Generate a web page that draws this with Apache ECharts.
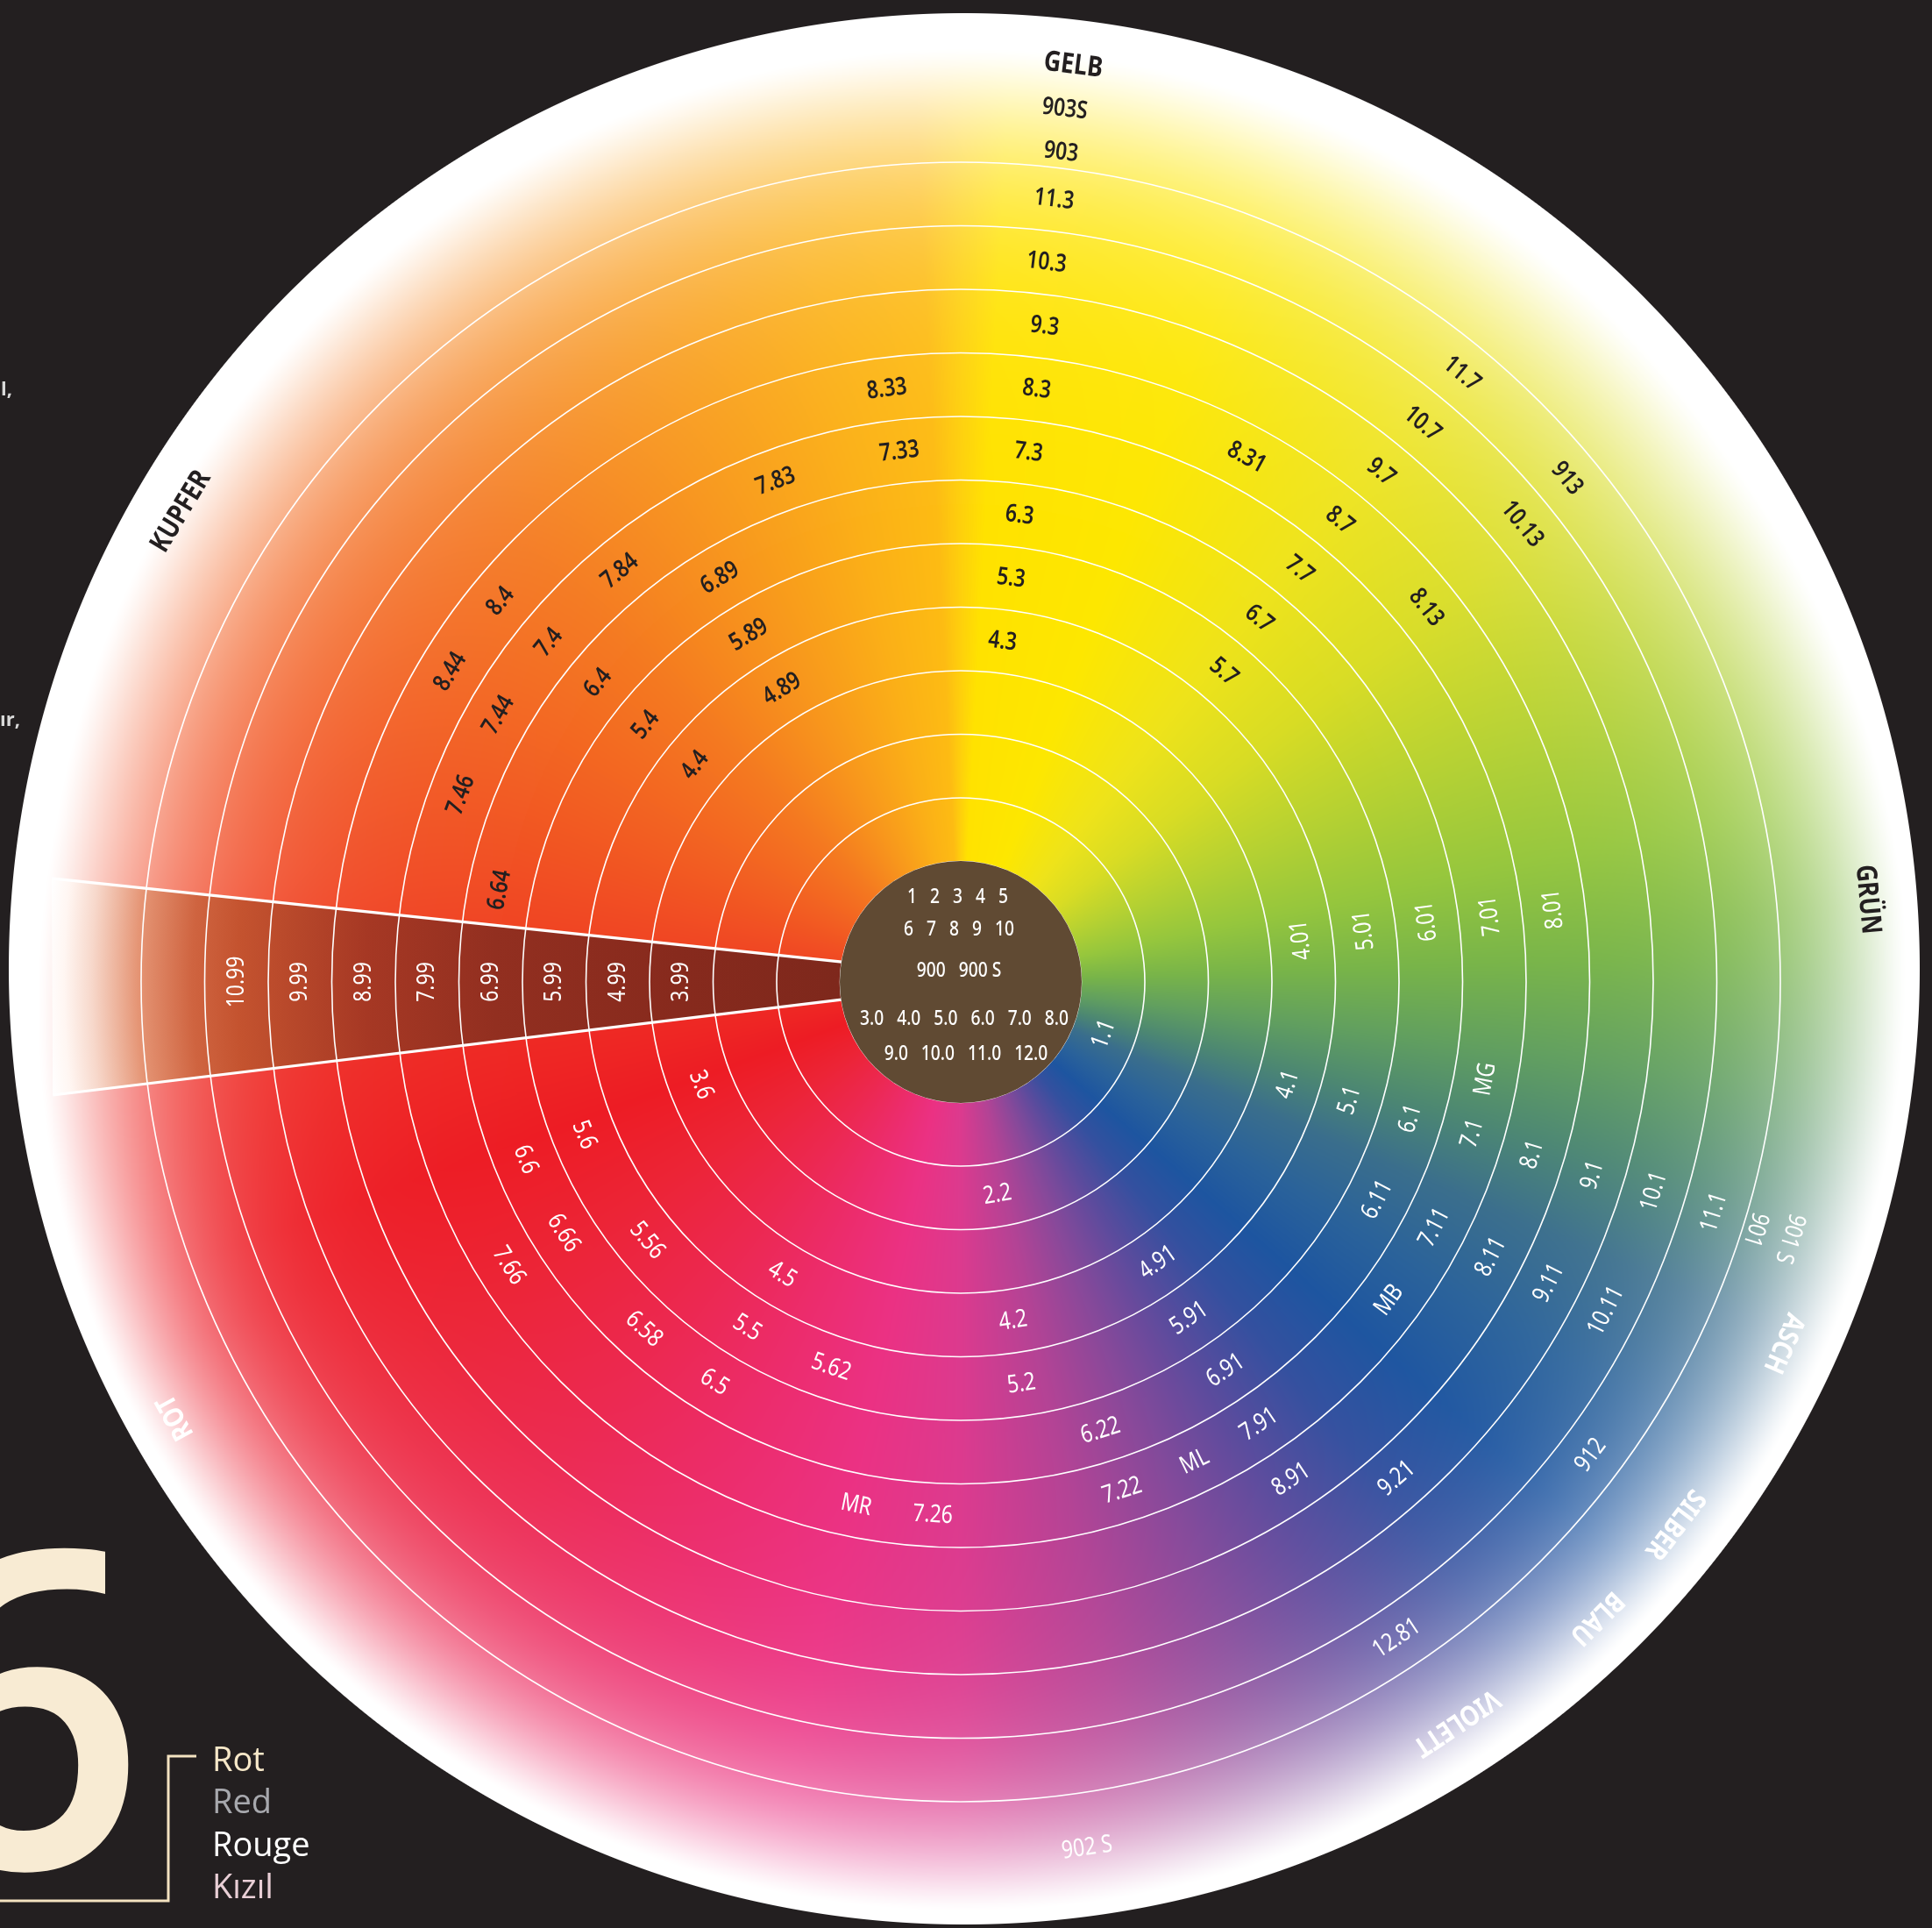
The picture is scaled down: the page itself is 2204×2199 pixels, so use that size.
<!DOCTYPE html>
<html><head><meta charset="utf-8"><title>Farbkreis</title>
<style>html,body{margin:0;padding:0;background:#231f20;overflow:hidden}#chart{width:2204px;height:2199px}</style>
<script src="https://cdn.jsdelivr.net/npm/echarts@6/dist/echarts.min.js"></script>
</head><body><div id="chart"></div>
<script>
// ================= DATA =================
// ring levels (radius axis), shade code labels: [code, hue angle (deg, clockwise from top), level]
const ringLevels = [1, 2, 3, 4, 5, 6, 7, 8, 9, 10, 11];
const shadeLabels = [
  ['4.3', 7.0, 4], ['5.3', 7.1, 5], ['6.3', 7.2, 6], ['7.3', 7.3, 7], ['8.3', 7.3, 8],
  ['9.3', 7.3, 9], ['10.3', 6.8, 10], ['11.3', 6.8, 11], ['903', 6.9, 11.75], ['903S', 6.8, 12.43],
  ['8.33', 352.9, 8], ['7.33', 353.4, 7], ['7.83', 339.7, 7],
  ['6.89', 329.2, 6], ['5.89', 328.6, 5], ['4.89', 328.6, 4], ['7.84', 320.3, 7],
  ['8.4', 309.6, 8], ['7.4', 309.5, 7], ['6.4', 309.5, 6], ['5.4', 309.2, 5], ['4.4', 309.2, 4],
  ['8.44', 301.3, 8], ['7.44', 300.0, 7], ['7.46', 290.5, 7], ['6.64', 281.3, 6],
  ['10.99', 270, 10], ['9.99', 270, 9], ['8.99', 270, 8], ['7.99', 270, 7],
  ['6.99', 270, 6], ['5.99', 270, 5], ['4.99', 270, 4], ['3.99', 270, 3],
  ['11.7', 39.5, 11], ['10.7', 39.6, 10], ['9.7', 39.5, 9], ['8.7', 39.4, 8],
  ['7.7', 39.4, 7], ['6.7', 39.4, 6], ['5.7', 40.3, 5],
  ['8.31', 28.6, 8], ['913', 50.3, 11], ['10.13', 50.8, 10], ['8.13', 51.2, 8],
  ['4.01', 83.0, 4], ['5.01', 82.7, 5], ['6.01', 82.6, 6], ['7.01', 82.9, 7], ['8.01', 83.0, 8],
  ['1.1', 110.0, 1], ['4.1', 107.4, 4], ['5.1', 106.9, 5], ['6.1', 106.9, 6], ['7.1', 106.5, 7],
  ['MG', 100.5, 7], ['8.1', 106.8, 8], ['9.1', 107.0, 9], ['10.1', 106.8, 10], ['11.1', 107.0, 11],
  ['6.11', 117.6, 6], ['7.11', 117.4, 7], ['8.11', 117.4, 8], ['9.11', 117.1, 9], ['10.11', 117.0, 10],
  ['MB', 126.6, 7], ['912', 126.9, 11],
  ['4.91', 144.9, 4], ['5.91', 145.8, 5], ['6.91', 145.7, 6], ['7.91', 146.0, 7], ['8.91', 146.4, 8],
  ['9.21', 138.7, 9], ['12.81', 146.4, 11], ['902 S', 171.7, 12.37],
  ['2.2', 170.2, 2], ['4.2', 171.2, 4], ['5.2', 171.4, 5], ['6.22', 162.7, 6], ['7.22', 162.4, 7],
  ['ML', 154.0, 7], ['7.26', 183.0, 7], ['MR', 191.3, 7],
  ['5.62', 198.6, 5], ['4.5', 211.4, 4], ['5.5', 211.7, 5], ['6.5', 211.6, 6], ['6.58', 222.4, 6],
  ['5.56', 230.5, 5], ['6.66', 237.7, 6], ['7.66', 237.9, 7],
  ['3.6', 248.4, 3], ['5.6', 247.9, 5], ['6.6', 247.8, 6]
];
// outer-rim codes and colour family names: [text, angle, level]
const outerCodes = [['901', 107.3, 11.7], ['901 S', 107.2, 12.26]];
const familyLabels = [
  ['GELB', 7.0, 13.13], ['KUPFER', 301.1, 12.93], ['GRÜN', 84.8, 12.93], ['ASCH', 113.7, 12.74],
  ['SILBER', 127.2, 12.71], ['BLAU', 135.0, 12.75], ['VIOLETT', 146.2, 12.62], ['ROT', 241.0, 12.73]
];
// the "x.99" wedge: hue angles at the inner and outer end, and its reach (level)
const wedgeInner = [261.6, 279.6];
const wedgeOuter = [262.9, 276.5];
const wedgeReach = 13.0;
// centre disc rows
const centerRows = ['1   2   3   4   5', '6   7   8   9   10', '900   900 S',
  '3.0   4.0   5.0   6.0   7.0   8.0', '9.0   10.0   11.0   12.0'];
const sectionNumber = '6';
const sectionNames = ['Rot', 'Red', 'Rouge', 'Kızıl'];
const marginFragments = ['l,', 'ır,'];

// ================= STYLE / LAYOUT =================
const DARK = '#231F20';
const SANS = '"Noto Sans","Open Sans",sans-serif';
const CENTER = [1096, 1120];
const R_INNER = 137.5, R_RING = 935;
const DISC_OFF = [4, -15], DISC_R = 1090;
const D2R = Math.PI / 180;

const hueStops = [
  [0, '#FED00C'], [3, '#FFE200'], [20, '#FDE700'], [38, '#EEE31A'], [52, '#D8DC24'], [66, '#B5D132'],
  [78, '#95C63D'], [88, '#78B449'], [97, '#619F5F'], [105, '#4C8772'], [113, '#3A6E8C'], [122, '#2A629A'],
  [131, '#1D55A0'], [140, '#34509F'], [149, '#5C4B9D'], [158, '#86499A'], [168, '#B34395'], [180, '#DC3A8E'],
  [192, '#EB3183'], [205, '#EC2C6C'], [220, '#EC2850'], [236, '#EC2436'], [250, '#ED1C24'], [262, '#EE2924'],
  [278, '#F04623'], [295, '#F25E22'], [315, '#F47920'], [333, '#F8981C'], [348, '#FBB017'], [357, '#FDBB13'],
  [360, '#FED00C']
];
function hex2rgb(h) { return [parseInt(h.substr(1, 2), 16), parseInt(h.substr(3, 2), 16), parseInt(h.substr(5, 2), 16)]; }
function hueRGB(a) {
  for (let i = 0; i < hueStops.length - 1; i++) {
    const s0 = hueStops[i], s1 = hueStops[i + 1];
    if (a >= s0[0] && a <= s1[0]) {
      const t = (a - s0[0]) / (s1[0] - s0[0]), c0 = hex2rgb(s0[1]), c1 = hex2rgb(s1[1]);
      return c0.map((v, k) => v + (c1[k] - v) * t);
    }
  }
  return hex2rgb(hueStops[0][1]);
}
// how wide the pale rim is, by hue angle (1 = wide pale rim, 0 = narrower rim)
function rimWeight(th) {
  if (th <= 55 || th >= 280) return 1;
  if (th < 85) return (85 - th) / 30;
  if (th <= 245) return 0;
  return (th - 245) / 35;
}
function buildWheel() {
  const S = Math.ceil(DISC_R * 2) + 4, m = S / 2;
  const c = document.createElement('canvas'); c.width = S; c.height = S;
  const g = c.getContext('2d');
  const img = g.createImageData(S, S), px = img.data;
  const N = 3600, lut = new Float32Array(N * 3);
  for (let i = 0; i < N; i++) { const col = hueRGB(i / 10); lut[i * 3] = col[0]; lut[i * 3 + 1] = col[1]; lut[i * 3 + 2] = col[2]; }
  const ccx = m - DISC_OFF[0], ccy = m - DISC_OFF[1];
  const R2 = (DISC_R + 1) * (DISC_R + 1);
  for (let y = 0; y < S; y++) {
    const dyd = y + 0.5 - m, ay = y + 0.5 - ccy;
    for (let x = 0; x < S; x++) {
      const dxd = x + 0.5 - m, dd = dxd * dxd + dyd * dyd;
      if (dd > R2) continue;
      const d = Math.sqrt(dd);
      const cov = Math.min(1, DISC_R - d + 0.5);
      if (cov <= 0) continue;
      const ax = x + 0.5 - ccx;
      let th = Math.atan2(ax, -ay) / D2R; if (th < 0) th += 360;
      const li = Math.min(N - 1, Math.floor(th * 10)) * 3;
      let r = lut[li], gg = lut[li + 1], b = lut[li + 2];
      const e = DISC_R - d;
      if (e < 560) {
        const w = rimWeight(th), e0 = 15 + 25 * w, s = 120 + 30 * w;
        const al = e <= e0 ? 1 : Math.exp(-Math.pow((e - e0) / s, 1.3));
        r += (255 - r) * al; gg += (255 - gg) * al; b += (255 - b) * al;
      }
      const o = (y * S + x) * 4;
      px[o] = r; px[o + 1] = gg; px[o + 2] = b; px[o + 3] = cov * 255;
    }
  }
  g.putImageData(img, 0, 0);
  return c;
}
const WHEEL = buildWheel();

function labelItem(arr) { return arr.map(d => ({ value: [d[2] - 0.5, d[1]], name: d[0] })); }

function textEl(api, params, list, kind) {
  const v = api.value(0), a = api.value(1);
  const p = api.coord([v, a]);
  const name = list[params.dataIndex][0];
  let cw, fill, weight = 'normal', size = 28, sx = 0.82;
  if (kind === 'shade') {
    const inward = a > 60 && a < 265;
    cw = inward ? a - 180 : a;
    fill = (a < 75 || a > 275) ? DARK : '#FFFFFF';
  } else {
    cw = a;
    fill = (a < 90 || a > 270) ? DARK : '#FFFFFF';
    if (kind === 'family') { weight = 'bold'; size = 32; sx = 0.84; }
  }
  if (fill === DARK) weight = kind === 'family' ? 'bold' : '600';
  return {
    type: 'text', x: p[0], y: p[1], rotation: -cw * D2R, scaleX: sx, silent: true,
    style: { text: name, fill: fill, fontSize: size, fontWeight: weight, fontFamily: SANS, align: 'center', verticalAlign: 'middle' }
  };
}

const chart = echarts.init(document.getElementById('chart'), null, { renderer: 'canvas' });
chart.setOption({
  backgroundColor: DARK,
  animation: false,
  polar: { center: CENTER, radius: [R_INNER, R_RING] },
  angleAxis: { type: 'value', min: 0, max: 360, startAngle: 90, clockwise: true, show: false },
  radiusAxis: {
    type: 'value', min: 0, max: ringLevels.length, interval: 1, z: 3,
    axisLine: { show: false }, axisTick: { show: false }, axisLabel: { show: false },
    splitLine: { show: true, lineStyle: { color: '#FFFFFF', width: 1.6 } }
  },
  series: [
    { // colour wheel disc
      type: 'custom', coordinateSystem: 'polar', z: 1, silent: true, data: [[0, 0]],
      renderItem: (params) => {
        const cs = params.coordSys, h = WHEEL.width / 2;
        return { type: 'image', style: { image: WHEEL, x: cs.cx + DISC_OFF[0] - h, y: cs.cy + DISC_OFF[1] - h, width: WHEEL.width, height: WHEEL.height } };
      }
    },
    { // brown x.99 wedge
      type: 'custom', coordinateSystem: 'polar', z: 2, silent: true, data: [[0, 270]],
      renderItem: (params, api) => {
        const cs = params.coordSys;
        const vIn = 0, vOut = wedgeReach - 0.5;
        const pts = [api.coord([vIn, wedgeInner[1]]), api.coord([vOut, wedgeOuter[1]]), api.coord([vOut, wedgeOuter[0]]), api.coord([vIn, wedgeInner[0]])];
        const rEnd = Math.hypot(pts[1][0] - cs.cx, pts[1][1] - cs.cy);
        const grad = new echarts.graphic.RadialGradient(cs.cx, cs.cy, rEnd, [
          { offset: 0, color: '#6A2216' }, { offset: 0.13, color: '#7E281C' }, { offset: 0.31, color: '#872A1D' },
          { offset: 0.51, color: '#922F20' }, { offset: 0.65, color: '#A63824' }, { offset: 0.79, color: '#C4532F' },
          { offset: 0.84, color: '#CF6440' }, { offset: 0.9, color: '#E59575' }, { offset: 0.95, color: '#F7D8CB' },
          { offset: 0.98, color: '#FFF6F2' }, { offset: 1, color: '#FFFFFF' }], true);
        return { type: 'polygon', shape: { points: pts }, style: { fill: grad } };
      }
    },
    { // wedge edge lines
      type: 'custom', coordinateSystem: 'polar', z: 4, silent: true, data: [[0, 270]],
      renderItem: (params, api) => {
        const vOut = wedgeReach - 0.5;
        return {
          type: 'group', children: [0, 1].map(i => ({
            type: 'line',
            shape: { x1: api.coord([0, wedgeInner[i]])[0], y1: api.coord([0, wedgeInner[i]])[1], x2: api.coord([vOut, wedgeOuter[i]])[0], y2: api.coord([vOut, wedgeOuter[i]])[1] },
            style: { stroke: '#FFFFFF', lineWidth: 3.2 }
          }))
        };
      }
    },
    { // centre disc with base shade numbers
      type: 'custom', coordinateSystem: 'polar', z: 5, silent: true, data: [[0, 0]],
      renderItem: (params) => {
        const cs = params.coordSys;
        const dy = [-97, -60, -13, 42, 82], dx = [-3.5, -2, -2, 4, 6];
        const kids = [{ type: 'circle', shape: { cx: cs.cx, cy: cs.cy, r: cs.r0 + 0.5 }, style: { fill: '#604A33' } }];
        centerRows.forEach((t, i) => kids.push({
          type: 'text', x: cs.cx + dx[i], y: cs.cy + dy[i], scaleX: 0.8,
          style: { text: t, fill: '#FFFFFF', fontSize: 24, fontWeight: '500', fontFamily: SANS, align: 'center', verticalAlign: 'middle' }
        }));
        return { type: 'group', children: kids };
      }
    },
    {
      type: 'custom', coordinateSystem: 'polar', z: 6, silent: true, clip: false,
      data: labelItem(shadeLabels), encode: { radius: 0, angle: 1 },
      renderItem: (params, api) => textEl(api, params, shadeLabels, 'shade')
    },
    {
      type: 'custom', coordinateSystem: 'polar', z: 6, silent: true, clip: false,
      data: labelItem(outerCodes), encode: { radius: 0, angle: 1 },
      renderItem: (params, api) => textEl(api, params, outerCodes, 'code')
    },
    {
      type: 'custom', coordinateSystem: 'polar', z: 6, silent: true, clip: false,
      data: labelItem(familyLabels), encode: { radius: 0, angle: 1 },
      renderItem: (params, api) => textEl(api, params, familyLabels, 'family')
    }
  ],
  graphic: [
    { type: 'text', x: -122, y: 1987, z: 10, silent: true,
      style: { text: sectionNumber, fontSize: 505, fontWeight: '600', fontFamily: '"Open Sans","Noto Sans",sans-serif', fill: '#F8EBD3', align: 'left', verticalAlign: 'middle' } },
    { type: 'polyline', z: 10, silent: true, shape: { points: [[224, 2003], [192, 2003], [192, 2168], [0, 2168]] },
      style: { stroke: '#F3E2C0', lineWidth: 3, fill: null } }
  ].concat(sectionNames.map((t, i) => ({
    type: 'text', x: 242, y: 2009 + i * 48.5, z: 10, silent: true,
    style: { text: t, fontSize: 38, fontFamily: '"Open Sans","Noto Sans",sans-serif', fill: ['#F6E7C8', '#A7A8AD', '#FFFFFF', '#E9CFD6'][i], align: 'left', verticalAlign: 'middle' }
  }))).concat(marginFragments.map((t, i) => ({
    type: 'text', x: [14, 23][i], y: [445, 822][i], z: 10, silent: true,
    style: { text: t, fontSize: 22, fontWeight: 'bold', fontFamily: '"Open Sans",sans-serif', fill: '#D9D9D9', align: 'right', verticalAlign: 'middle' }
  })))
});
</script></body></html>
